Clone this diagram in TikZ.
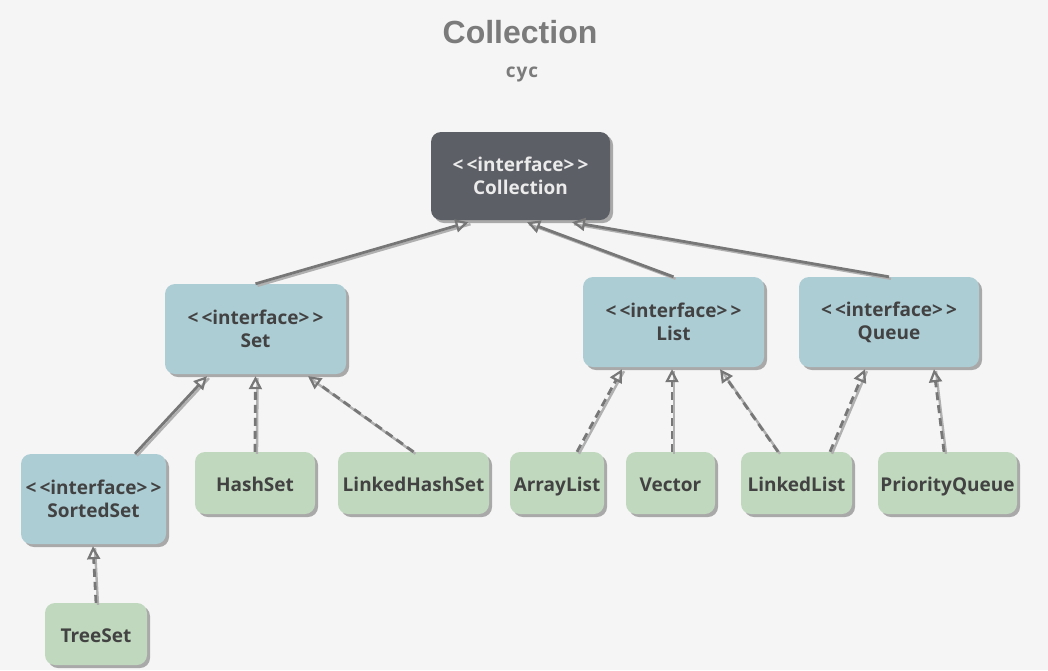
\documentclass[tikz,border=0pt]{standalone}
\usepackage{fontspec}
\setmainfont{Open Sans}
\newfontfamily\titlefont{Liberation Sans}
\usetikzlibrary{arrows.meta}
\definecolor{bg}{HTML}{F5F5F5}
\definecolor{darkbox}{HTML}{5D5F66}
\definecolor{bluebox}{HTML}{ADCDD5}
\definecolor{greenbox}{HTML}{C0D8BD}
\definecolor{shadowc}{HTML}{A9A9A9}
\definecolor{txt}{HTML}{424242}
\definecolor{linec}{HTML}{777777}
\definecolor{linelight}{HTML}{B0B0B0}
\definecolor{titlec}{HTML}{7B7B7B}
\tikzset{
  box/.style={rounded corners=10pt, align=center, text=txt,
    font=\fontsize{19}{23}\selectfont\bfseries, inner sep=0pt,
    preaction={fill=shadowc, transform canvas={shift={(3pt,-3pt)}}}},
  ifacebox/.style={box, fill=bluebox, minimum height=90pt},
  classbox/.style={box, fill=greenbox, minimum height=62pt, text height=20.5pt, text depth=3.5pt},
  topbox/.style={box, fill=darkbox, text=white!92!black, minimum height=88pt},
  inherit/.style={draw=linec, line width=2.8pt,
    -{Triangle[open, length=13pt, width=13pt, line width=2.2pt]},
    preaction={draw=linelight, line width=2.4pt, -, transform canvas={shift={(2pt,-2pt)}}}},
  realize/.style={inherit, dash pattern=on 8pt off 5pt},
}
\newcommand{\iface}[1]{<\,<interface>\,>\\#1}
\begin{document}
\begin{tikzpicture}[x=1pt, y=-1pt]
\fill[bg] (0,0) rectangle (1048,670);
\useasboundingbox (0,0) rectangle (1048,670);

\node[text=titlec, font=\titlefont\fontsize{32}{36}\selectfont\bfseries] (title) at (520,32) {Collection};
\node[text=titlec, font=\fontsize{19}{22}\selectfont\bfseries] (sub) at (522,74) {c\kern1pt y\kern1pt c};

\node[topbox, minimum width=179pt] (coll) at (520.5,176) {\iface{Collection}};
\node[ifacebox, minimum width=181pt] (set) at (255.5,329) {\iface{Set}};
\node[ifacebox, minimum width=181pt] (list) at (673.5,322) {\iface{List}};
\node[ifacebox, minimum width=180pt] (queue) at (889,322) {\iface{Queue}};
\node[ifacebox, minimum width=145pt] (sorted) at (93.5,499) {\iface{SortedSet}};
\node[classbox, minimum width=120pt] (hashset) at (255,483) {HashSet};
\node[classbox, minimum width=151pt] (lhs) at (413.5,483) {LinkedHashSet};
\node[classbox, minimum width=94pt] (arraylist) at (557,483) {ArrayList};
\node[classbox, minimum width=89pt] (vector) at (670.5,483) {Vector};
\node[classbox, minimum width=111pt] (linkedlist) at (796.5,483) {LinkedList};
\node[classbox, minimum width=139pt] (pq) at (947.5,483) {PriorityQueue};
\node[classbox, minimum width=102pt] (treeset) at (96,634) {TreeSet};

\draw[inherit] (set.north) -- ([xshift=-52pt,yshift=-2pt]coll.south);
\draw[inherit] (list.north) -- ([xshift=6.5pt,yshift=-2pt]coll.south);
\draw[inherit] (queue.north) -- ([xshift=51.5pt,yshift=-2pt]coll.south);
\draw[inherit] ([xshift=41.5pt]sorted.north) -- ([xshift=-48.5pt,yshift=-2pt]set.south);

\draw[realize] (hashset.north) -- ([yshift=-2pt]set.south);
\draw[realize] (lhs.north) -- ([xshift=52.5pt,yshift=-2pt]set.south);
\draw[realize] ([xshift=20pt]arraylist.north) -- ([xshift=-51.5pt,yshift=-2pt]list.south);
\draw[realize] ([xshift=1.5pt]vector.north) -- ([xshift=-1.5pt,yshift=-2pt]list.south);
\draw[realize] ([xshift=-18.5pt]linkedlist.north) -- ([xshift=46.5pt,yshift=-2pt]list.south);
\draw[realize] ([xshift=33.5pt]linkedlist.north) -- ([xshift=-24pt,yshift=-2pt]queue.south);
\draw[realize] ([xshift=-3.5pt]pq.north) -- ([xshift=45pt,yshift=-2pt]queue.south);
\draw[realize] (treeset.north) -- ([xshift=-0.5pt,yshift=-2pt]sorted.south);
\end{tikzpicture}
\end{document}
